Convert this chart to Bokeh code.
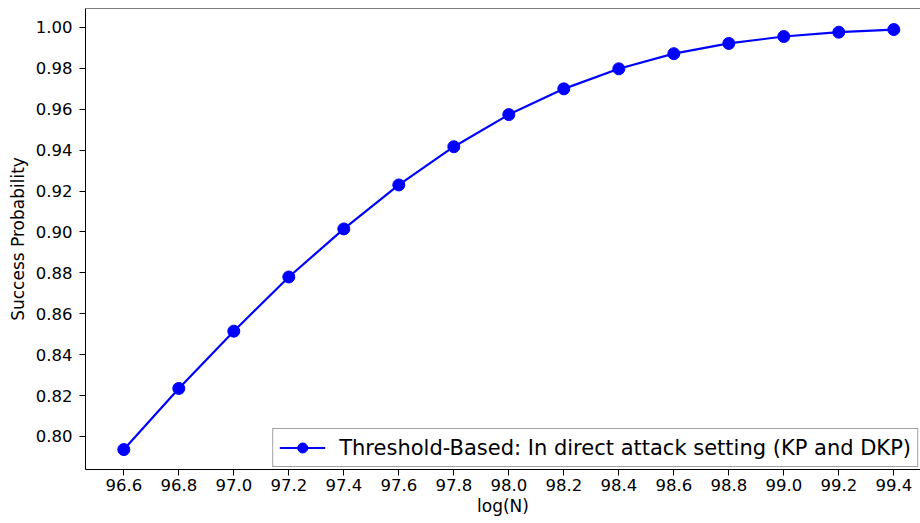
from bokeh.plotting import figure
from bokeh.models import Range1d, FixedTicker, Span, Legend
from bokeh.embed import file_html
from bokeh.resources import INLINE

# Data
log_n = [96.6, 96.8, 97.0, 97.2, 97.4, 97.6, 97.8, 98.0, 98.2, 98.4, 98.6, 98.8, 99.0, 99.2, 99.4]
success_prob = [0.7936, 0.8235, 0.8515, 0.8780, 0.9015, 0.9230, 0.9417, 0.9574, 0.9700, 0.9798,
                0.9872, 0.9922, 0.9956, 0.9977, 0.9990]
x_ticks = [96.6, 96.8, 97.0, 97.2, 97.4, 97.6, 97.8, 98.0, 98.2, 98.4, 98.6, 98.8, 99.0, 99.2, 99.4]
y_ticks = [0.80, 0.82, 0.84, 0.86, 0.88, 0.90, 0.92, 0.94, 0.96, 0.98, 1.00]
series_label = "Threshold-Based: In direct attack setting (KP and DKP)"

FONT = "DejaVu Sans"
y_end = 1.00929

p = figure(width=920, height=523, output_backend="svg", toolbar_location=None,
           x_range=Range1d(96.4607, 99.4971), y_range=Range1d(0.78386, y_end),
           min_border_left=85, min_border_right=0, min_border_top=8, min_border_bottom=54)

p.outline_line_color = None
p.xgrid.visible = False
p.ygrid.visible = False
p.background_fill_color = "white"
p.border_fill_color = "white"

line_r = p.line(log_n, success_prob, line_color="#0000ff", line_width=2.2)
pt_r = p.scatter(log_n, success_prob, marker="circle", size=12, fill_color="#0000ff",
                 line_color="#0000ff")

p.add_layout(Span(location=y_end, dimension="width", line_color="black", line_width=1))

for ax in (p.xaxis[0], p.yaxis[0]):
    ax.axis_line_color = "black"
    ax.axis_line_width = 1
    ax.major_tick_line_color = "black"
    ax.major_tick_out = 6
    ax.major_tick_in = 0
    ax.minor_tick_line_color = None
    ax.major_label_text_font = FONT
    ax.major_label_text_font_size = "16.5px"
    ax.major_label_text_color = "black"
    ax.axis_label_text_font = FONT
    ax.axis_label_text_font_size = "17px"
    ax.axis_label_text_font_style = "normal"
    ax.axis_label_text_color = "black"

p.xaxis[0].ticker = FixedTicker(ticks=x_ticks)
p.yaxis[0].ticker = FixedTicker(ticks=y_ticks)
p.xaxis[0].major_label_overrides = {t: f"{t:.1f}" for t in x_ticks}
p.yaxis[0].major_label_overrides = {t: f"{t:.2f}" for t in y_ticks}
p.xaxis[0].axis_label = "log(N)"
p.yaxis[0].axis_label = "Success Probability"
p.xaxis[0].major_label_standoff = 3
p.xaxis[0].axis_label_standoff = 2
p.yaxis[0].major_label_standoff = 7
p.yaxis[0].axis_label_standoff = 5

legend = Legend(items=[(series_label, [line_r, pt_r])], location="bottom_right")
legend.margin = 2
legend.padding = 6
legend.spacing = 0
legend.glyph_width = 46
legend.glyph_height = 25
legend.label_height = 25
legend.label_standoff = 14
legend.label_text_font = FONT
legend.label_text_font_size = "21px"
legend.label_text_color = "black"
legend.border_line_color = "#444444"
legend.border_line_width = 1
legend.background_fill_color = "white"
legend.background_fill_alpha = 0.8
p.add_layout(legend)

open("out.html", "w").write(file_html(p, INLINE))
